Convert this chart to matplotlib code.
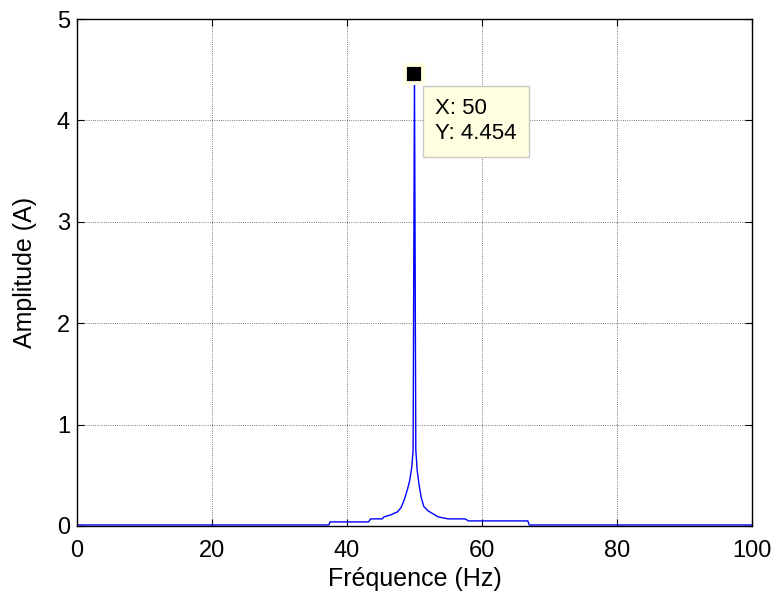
import matplotlib
matplotlib.use('Agg')
import matplotlib.pyplot as plt

plt.rcParams['font.family'] = ['Liberation Sans', 'DejaVu Sans']

# spectrum
freq = [0, 37.3, 37.5, 43.2, 43.5, 45.2, 45.5, 46.5, 47.5, 48.0, 48.5, 49.0,
        49.3, 49.6, 49.8, 50.0, 50.2, 50.4, 50.7, 51.0, 51.4, 52.0, 52.5,
        53.5, 55.0, 57.5, 58.0, 66.8, 67.0, 100]
amp = [0.01, 0.01, 0.04, 0.04, 0.07, 0.07, 0.09, 0.11, 0.14, 0.18, 0.26, 0.37,
       0.45, 0.58, 0.75, 4.454, 0.75, 0.55, 0.40, 0.28, 0.19, 0.15, 0.13,
       0.09, 0.07, 0.07, 0.05, 0.05, 0.01, 0.01]
tip_x = 50
tip_y = 4.454

fig = plt.figure(figsize=(7.76, 5.99), dpi=100)
ax = fig.add_axes([0.0992, 0.1219, 0.8698, 0.8463])
ax.plot(freq, amp, color='blue', lw=1)

ax.set_xlim(0, 100)
ax.set_ylim(0, 5)
ax.set_xticks(range(0, 101, 20))
ax.set_yticks(range(0, 6))
ax.grid(True, color='black', linestyle=':', linewidth=0.6, alpha=0.7)
ax.tick_params(direction='in', labelsize=17, length=5, top=True, right=True, pad=5)
ax.tick_params(axis='x', pad=10)
for s in ax.spines.values():
    s.set_linewidth(1.0)
ax.set_xlabel('Fréquence (Hz)', fontsize=18, labelpad=4)
ax.set_ylabel('Amplitude (A)', fontsize=18, labelpad=14)

# data tip
ax.plot([tip_x], [tip_y], marker='s', markersize=13.5, color='black',
        markeredgecolor='#ffffe0', markeredgewidth=2.75, zorder=5)
ax.annotate('X: 50\nY: 4.454', xy=(tip_x, tip_y), xytext=(15, -17),
            textcoords='offset points', fontsize=16, va='top', ha='left',
            linespacing=1.27,
            bbox=dict(boxstyle='square,pad=0.55', fc='#ffffe1', ec='#c8c8c8'))

fig.savefig('out.png', dpi=100)
